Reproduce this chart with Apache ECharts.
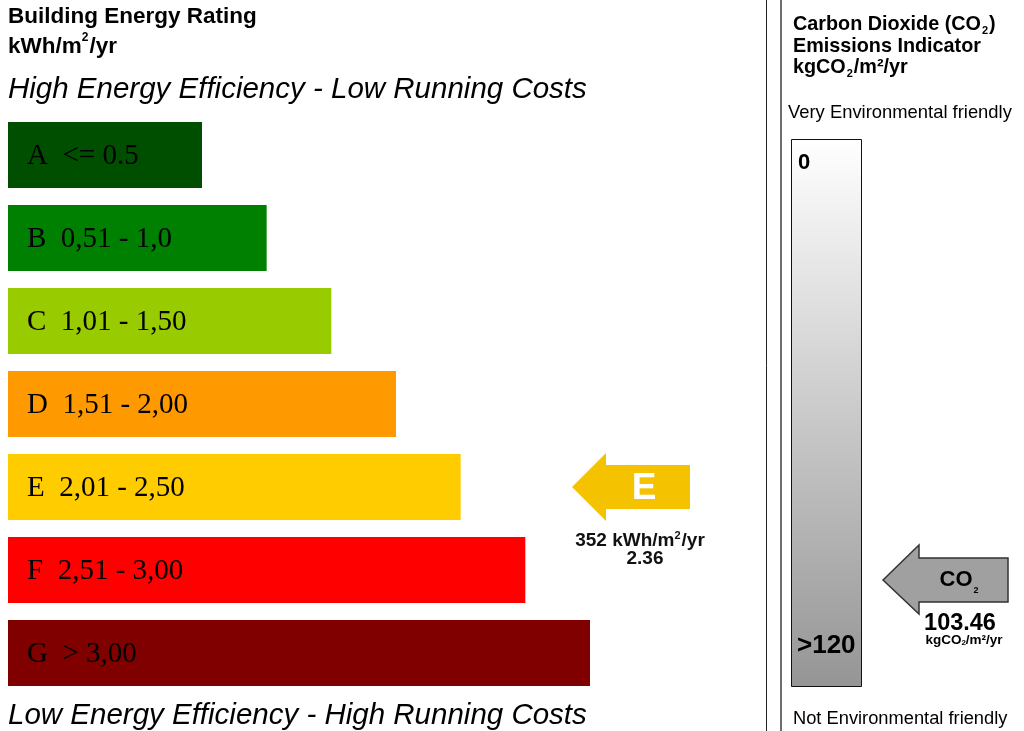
<!DOCTYPE html>
<html>
<head>
<meta charset="utf-8">
<script src="https://cdn.jsdelivr.net/npm/echarts@6/dist/echarts.min.js"></script>
<style>
html,body{margin:0;padding:0;background:#fff;}
#chart{width:1024px;height:731px;}
</style>
</head>
<body>
<div id="chart"></div>
<script>
// ---- data ----
const ratingLetters = ['A', 'B', 'C', 'D', 'E', 'F', 'G'];
const ratingRanges = ['<= 0.5', '0,51 - 1,0', '1,01 - 1,50', '1,51 - 2,00', '2,01 - 2,50', '2,51 - 3,00', '> 3,00'];
const barLengths = [3, 4, 5, 6, 7, 8, 9];
const barColors = ['#004f00', '#008000', '#99cc00', '#ff9900', '#ffcc00', '#ff0000', '#800000'];
const currentRating = 'E';
const energyValue = '352';
const energyRatio = '2.36';
const co2Value = '103.46';
const co2Max = 120;
const co2Labels = ['0', '>120'];

const chart = echarts.init(document.getElementById('chart'), null, {renderer: 'canvas'});
const SANS = 'Liberation Sans, Arial, sans-serif';
const SERIF = 'Liberation Serif, Times New Roman, serif';

const arrowColor = '#f5c200';

const option = {
  animation: false,
  backgroundColor: '#ffffff',
  grid: [
    {left: 8, top: 113.5, width: 582, height: 581, containLabel: false},
    {left: 791, top: 139, width: 71, height: 548}
  ],
  xAxis: [
    {type: 'value', gridIndex: 0, min: 0, max: 9, show: false},
    {type: 'category', gridIndex: 1, data: ['CO2'], show: false}
  ],
  yAxis: [
    {type: 'category', gridIndex: 0, data: ratingLetters, inverse: true, show: false},
    {type: 'value', gridIndex: 1, min: 0, max: co2Max, inverse: true, show: false}
  ],
  series: [
    {
      type: 'bar',
      xAxisIndex: 0, yAxisIndex: 0,
      barWidth: 66,
      data: barLengths.map((v, i) => ({value: v, itemStyle: {color: barColors[i]}})),
      label: {
        show: true,
        position: 'insideLeft',
        distance: 19,
        formatter: p => ratingLetters[p.dataIndex] + '  ' + ratingRanges[p.dataIndex],
        color: '#000',
        fontFamily: SERIF,
        fontSize: 29,
        offset: [0, 1]
      },
      silent: true
    },
    {
      type: 'custom',
      xAxisIndex: 0, yAxisIndex: 0,
      data: [[0, ratingLetters.indexOf(currentRating)]],
      renderItem: function (params, api) {
        const y = api.coord([0, api.value(1)])[1];
        const tip = 572, base = 606, right = 690;
        return {
          type: 'group',
          children: [
            {
              type: 'polygon',
              shape: {points: [[tip, y], [base, y - 34], [base, y - 22], [right, y - 22], [right, y + 22], [base, y + 22], [base, y + 34]]},
              style: {fill: arrowColor}
            },
            {
              type: 'text',
              x: 644, y: y + 2,
              style: {text: currentRating, fill: '#fff', font: 'bold 37px ' + SANS, align: 'center', verticalAlign: 'middle'}
            },
            {
              type: 'text',
              x: 640, y: y + 53,
              style: {
                text: '{b|' + energyValue + ' kWh/m}{s|2}{b|/yr}',
                align: 'center', verticalAlign: 'middle',
                rich: {
                  b: {font: 'bold 19px ' + SANS, fill: '#111', lineHeight: 20, verticalAlign: 'bottom'},
                  s: {font: 'bold 11px ' + SANS, fill: '#111', lineHeight: 20, verticalAlign: 'top', padding: [0, 1, 0, 0]}
                }
              }
            },
            {
              type: 'text',
              x: 645, y: y + 72,
              style: {text: energyRatio, font: 'bold 19px ' + SANS, fill: '#111', align: 'center', verticalAlign: 'middle'}
            }
          ]
        };
      },
      silent: true
    },
    {
      type: 'bar',
      xAxisIndex: 1, yAxisIndex: 1,
      barWidth: '100%',
      data: [co2Max],
      itemStyle: {
        color: new echarts.graphic.LinearGradient(0, 0, 0, 1, [
          {offset: 0, color: '#ffffff'},
          {offset: 1, color: '#959595'}
        ]),
        borderColor: '#111',
        borderWidth: 1
      },
      silent: true
    }
  ],
  graphic: [
    {type: 'line', shape: {x1: 766.5, y1: 0, x2: 766.5, y2: 731}, style: {stroke: '#222', lineWidth: 1}},
    {type: 'line', shape: {x1: 781, y1: 0, x2: 781, y2: 731}, style: {stroke: '#6e6e6e', lineWidth: 2}},
    {type: 'text', x: 8, y: 17, style: {text: 'Building Energy Rating', font: 'bold 22.5px ' + SANS, fill: '#000', verticalAlign: 'middle'}},
    {type: 'text', x: 8, y: 32, style: {
      text: '{b|kWh/m}{s|2}{b|/yr}',
      rich: {
        b: {font: 'bold 22.5px ' + SANS, fill: '#000', lineHeight: 26, verticalAlign: 'bottom'},
        s: {font: 'bold 12px ' + SANS, fill: '#000', lineHeight: 26, verticalAlign: 'top', padding: [0, 1, 0, 0]}
      }
    }},
    {type: 'text', x: 8, y: 90, style: {text: 'High Energy Efficiency - Low Running Costs', font: 'italic 29.5px ' + SANS, fill: '#000', verticalAlign: 'middle'}},
    {type: 'text', x: 8, y: 716, style: {text: 'Low Energy Efficiency - High Running Costs', font: 'italic 29.5px ' + SANS, fill: '#000', verticalAlign: 'middle'}},

    {type: 'text', x: 793, y: 15, style: {
      text: '{b|Carbon Dioxide (CO}{sub|2}{b|)}\n{b|Emissions Indicator}\n{b|kgCO}{sub|2}{b|/m²/yr}',
      rich: {
        b: {font: 'bold 19.8px ' + SANS, fill: '#000', lineHeight: 21.5, verticalAlign: 'top'},
        sub: {font: 'bold 11px ' + SANS, fill: '#000', lineHeight: 21.5, verticalAlign: 'bottom', padding: [0, 1, 0, 1]}
      }
    }},
    {type: 'text', x: 788, y: 113, style: {text: 'Very Environmental friendly', font: '18.4px ' + SANS, fill: '#000', verticalAlign: 'middle'}},
    {type: 'text', x: 793, y: 719, style: {text: 'Not Environmental friendly', font: '18.3px ' + SANS, fill: '#000', verticalAlign: 'middle'}},
    {type: 'text', x: 798, y: 163, z: 10, style: {text: co2Labels[0], font: 'bold 22px ' + SANS, fill: '#000', verticalAlign: 'middle'}},
    {type: 'text', x: 797, y: 646, z: 10, style: {text: co2Labels[1], font: 'bold 26px ' + SANS, fill: '#000', verticalAlign: 'middle'}},

    {type: 'polygon', shape: {points: [[883, 580], [919, 545], [919, 558], [1008, 558], [1008, 602], [919, 602], [919, 614]]},
      style: {fill: '#a0a0a0', stroke: '#333', lineWidth: 1.5}},
    {type: 'text', x: 959, y: 582, style: {
      text: '{b|CO}{sub|2}', align: 'center', verticalAlign: 'middle',
      rich: {
        b: {font: 'bold 22px ' + SANS, fill: '#000', lineHeight: 26, verticalAlign: 'top'},
        sub: {font: 'bold 9px ' + SANS, fill: '#000', lineHeight: 26, verticalAlign: 'bottom', padding: [0, 0, 0, 1]}
      }
    }},
    {type: 'text', x: 960, y: 624, style: {text: co2Value, font: 'bold 23.5px ' + SANS, fill: '#000', align: 'center', verticalAlign: 'middle'}},
    {type: 'text', x: 964, y: 640, style: {
      text: '{b|kgCO}{sub|2}{b|/m²/yr}', align: 'center', verticalAlign: 'middle',
      rich: {
        b: {font: 'bold 13.5px ' + SANS, fill: '#000', lineHeight: 14, verticalAlign: 'top'},
        sub: {font: 'bold 8px ' + SANS, fill: '#000', lineHeight: 14, verticalAlign: 'bottom'}
      }
    }}
  ]
};
chart.setOption(option);
</script>
</body>
</html>
